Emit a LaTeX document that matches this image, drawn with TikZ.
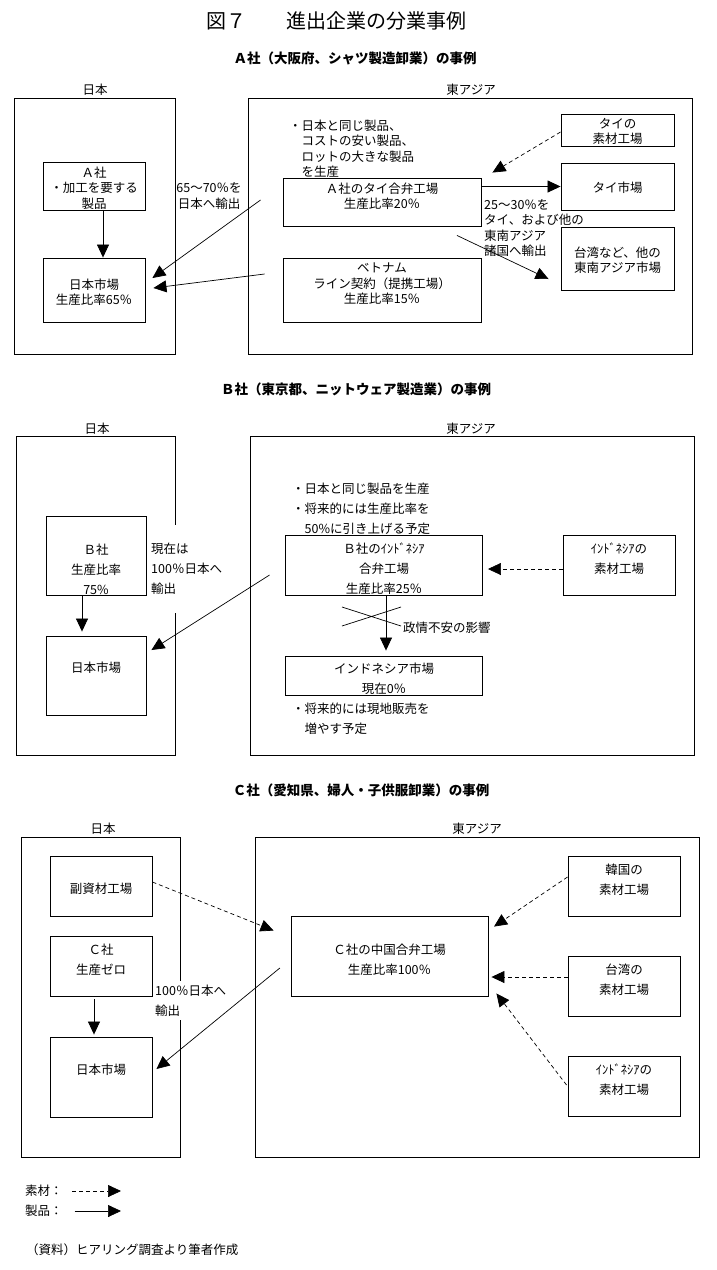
\documentclass[tikz,border=0pt]{standalone}
\usepackage{fontspec}
\setmainfont{Noto Sans CJK JP}
\usetikzlibrary{arrows.meta}
\newcommand\bodyfs{\fontsize{12.5}{15.5}\selectfont}
\newcommand\wideskip{\fontsize{12.5}{20}\selectfont}
\begin{document}
\begin{tikzpicture}[x=1pt,y=-1pt,
  frame/.style={draw, line width=0.9pt, inner sep=0pt},
  box/.style={draw, line width=0.9pt, inner sep=0pt},
  t/.style={inner sep=0pt, align=center, font=\bodyfs},
  tw/.style={inner sep=0pt, align=center, font=\wideskip},
  tl/.style={inner sep=0pt, align=left, anchor=west, font=\bodyfs},
  twl/.style={inner sep=0pt, align=left, anchor=west, font=\wideskip},
  prod/.style={line width=0.7pt, -{Triangle[length=13pt,width=12pt]}},
  mat/.style={prod, dash pattern=on 4pt off 3pt},
  sub/.style={inner sep=0pt, font=\fontsize{13.5}{16}\selectfont\bfseries}
]
\fill[white] (0,0) rectangle (716,1270);
\useasboundingbox (0,0) rectangle (716,1270);

% Title
\node[inner sep=0pt, font=\fontsize{20}{24}\selectfont] (title) at (336,21) {図７　　進出企業の分業事例};

% ---------------- Section A ----------------
\node[sub] (subA) at (355,58) {Ａ社（大阪府、シャツ製造卸業）の事例};
\node[t] (lbljpA) at (95,90) {日本};
\node[t] (lbleaA) at (471,90) {東アジア};
\node[frame, minimum width=161pt, minimum height=256pt] (jpA) at (94.5,226) {};
\node[frame, minimum width=444pt, minimum height=256pt] (eaA) at (470,226) {};

\node[box, minimum width=102pt, minimum height=48pt] (a1) at (94,186) {};
\node[t] (a1t) at (94,188) {Ａ社\\・加工を要する\\製品};
\node[box, minimum width=102pt, minimum height=64pt] (a2) at (94,290) {};
\node[t] (a2t) at (94,292) {日本市場\\生産比率65％};
\node[box, minimum width=198pt, minimum height=48pt] (a3) at (382,202) {};
\node[t] (a3t) at (382,196) {Ａ社のタイ合弁工場\\生産比率20％};
\node[box, minimum width=198pt, minimum height=64pt] (a4) at (382,290) {};
\node[t] (a4t) at (382,284) {ベトナム\\ライン契約（提携工場）\\生産比率15％};
\node[box, minimum width=113pt, minimum height=32pt] (a5) at (617.5,130) {};
\node[t] (a5t) at (617.5,131.5) {タイの\\素材工場};
\node[box, minimum width=113pt, minimum height=47pt] (a6) at (617.5,186.5) {};
\node[t] (a6t) at (617.5,188) {タイ市場};
\node[box, minimum width=113pt, minimum height=63pt] (a7) at (617.5,258.5) {};
\node[t] (a7t) at (617.5,260) {台湾など、他の\\東南アジア市場};

\node[tl] (a3note) at (289,148.5) {・日本と同じ製品、\\　コストの安い製品、\\　ロットの大きな製品\\　を生産};
\node[t] (expA) at (209,196) {65～70％を\\日本へ輸出};
\node[tl] (expA2) at (484,228) {25～30％を\\タイ、および他の\\東南アジア\\諸国へ輸出};

\draw[prod] ([xshift=9pt]a1.south) -- ([xshift=9pt]a2.north);
\draw[prod] ([xshift=-22pt,yshift=2pt]a3.west) -- ([xshift=7pt,yshift=12pt]a2.east);
\draw[prod] ([xshift=-18pt,yshift=16pt]a4.west) -- ([xshift=8pt,yshift=2pt]a2.east);
\draw[prod] (a3.east |- a6.west) -- (a6.west);
\draw[prod] ([xshift=75pt,yshift=-9pt]a3.south) -- ([xshift=-12pt,yshift=-20.5pt]a7.west);
\draw[mat] ([yshift=-2pt]a5.west) -- ([xshift=11pt,yshift=5pt]a3.north east);

% ---------------- Section B ----------------
\node[sub] (subB) at (356,389) {Ｂ社（東京都、ニットウェア製造業）の事例};
\node[t] (lbljpB) at (97,429) {日本};
\node[t] (lbleaB) at (471,429) {東アジア};
\node[frame, minimum width=159pt, minimum height=319pt] (jpB) at (95.5,595.5) {};
\node[frame, minimum width=444pt, minimum height=319pt] (eaB) at (472,595.5) {};

\node[box, minimum width=100pt, minimum height=79pt] (b1) at (96,555.5) {};
\node[tw] (b1t) at (96,569) {Ｂ社\\生産比率\\75\%};
\node[box, minimum width=100pt, minimum height=79pt] (b2) at (96,675.5) {};
\node[t] (b2t) at (96,668) {日本市場};
\node[box, minimum width=197pt, minimum height=60pt] (b3) at (384,565) {};
\node[tw] (b3t) at (384,569) {Ｂ社のｲﾝﾄﾞﾈｼｱ\\合弁工場\\生産比率25％};
\node[box, minimum width=112pt, minimum height=60pt] (b4) at (619,565) {};
\node[tw] (b4t) at (619,559) {ｲﾝﾄﾞﾈｼｱの\\素材工場};
\node[box, minimum width=197pt, minimum height=39pt] (b5) at (384,675.5) {};
\node[tw] (b5t) at (384,678.5) {インドネシア市場\\現在0％};

\node[twl, fill=white, inner xsep=2pt, inner ysep=18pt] (expB) at (149,569) {現在は\\100％日本へ\\輸出};
\node[twl] (b3note) at (292,509) {・日本と同じ製品を生産\\・将来的には生産比率を\\　50\%に引き上げる予定};
\node[twl] (b5note) at (292,719) {・将来的には現地販売を\\　増やす予定};
\node[tl] (polit) at (403,628) {政情不安の影響};

\coordinate (x1) at (342,607);
\coordinate (x2) at (401,626);
\coordinate (x3) at (342,626);
\coordinate (x4) at (401,607);
\draw[line width=0.7pt] (x1) -- (x2) (x3) -- (x4);

\draw[prod] ([xshift=-14pt]b1.south) -- ([xshift=-14pt,yshift=4pt]b2.north);
\draw[prod] ([xshift=2pt]b3.south) -- ([xshift=2pt,yshift=5pt]b5.north);
\draw[mat] ([yshift=-4pt]b4.west) -- ([xshift=5pt,yshift=-4pt]b3.east);
\draw[prod] ([xshift=-15.5pt,yshift=-10pt]b3.west) -- ([xshift=5pt,yshift=25.5pt]b2.east);

% ---------------- Section C ----------------
\node[sub] (subC) at (361,790) {Ｃ社（愛知県、婦人・子供服卸業）の事例};
\node[t] (lbljpC) at (103,829) {日本};
\node[t] (lbleaC) at (477,829) {東アジア};
\node[frame, minimum width=159pt, minimum height=320pt] (jpC) at (101,997) {};
\node[frame, minimum width=443.5pt, minimum height=320pt] (eaC) at (477.25,997) {};

\node[box, minimum width=102pt, minimum height=60pt] (c1) at (101,886) {};
\node[t] (c1t) at (101,889) {副資材工場};
\node[box, minimum width=102pt, minimum height=60pt] (c2) at (101,966) {};
\node[tw] (c2t) at (101,960) {Ｃ社\\生産ゼロ};
\node[box, minimum width=102pt, minimum height=80pt] (c3) at (101,1077) {};
\node[t] (c3t) at (101,1070) {日本市場};
\node[box, minimum width=197pt, minimum height=80pt] (c4) at (389.5,956) {};
\node[tw] (c4t) at (389.5,960) {Ｃ社の中国合弁工場\\生産比率100％};
\node[box, minimum width=112pt, minimum height=60pt] (c5) at (624,886) {};
\node[tw] (c5t) at (624,880) {韓国の\\素材工場};
\node[box, minimum width=112pt, minimum height=60pt] (c6) at (624,986) {};
\node[tw] (c6t) at (624,980) {台湾の\\素材工場};
\node[box, minimum width=112pt, minimum height=60pt] (c7) at (624,1086) {};
\node[tw] (c7t) at (624,1080) {ｲﾝﾄﾞﾈｼｱの\\素材工場};

\node[twl, fill=white, inner xsep=2pt, inner ysep=4pt] (expC) at (153,1000.5) {100％日本へ\\輸出};

\draw[prod] ([xshift=-7pt,yshift=-3pt]c2.south) -- ([xshift=-7pt,yshift=2pt]c3.north);
\draw[mat] ([yshift=4pt]c1.east) -- ([xshift=-17pt,yshift=-15pt]c4.north west);
\draw[mat] ([yshift=9pt]c5.west) -- ([xshift=5.6pt,yshift=-11pt]c4.north east);
\draw[mat] ([yshift=9pt]c6.west) -- ([xshift=3pt,yshift=-21pt]c4.east);
\draw[mat] ([xshift=-1pt,yshift=1pt]c7.west) -- ([xshift=8pt,yshift=3pt]c4.south east);
\draw[prod] ([xshift=-10.7pt,yshift=-12pt]c4.west) -- ([xshift=4pt,yshift=8pt]c3.east);

% ---------------- Legend ----------------
\node[tl] (lgm) at (25,1191) {素材：};
\coordinate (lgm1) at (72,1191);
\coordinate (lgm2) at (121,1191);
\draw[mat] (lgm1) -- (lgm2);
\node[tl] (lgp) at (25,1211) {製品：};
\coordinate (lgp1) at (74.5,1211);
\coordinate (lgp2) at (121,1211);
\draw[prod] (lgp1) -- (lgp2);
\node[tl] (src) at (26,1250) {（資料）ヒアリング調査より筆者作成};
\end{tikzpicture}
\end{document}
